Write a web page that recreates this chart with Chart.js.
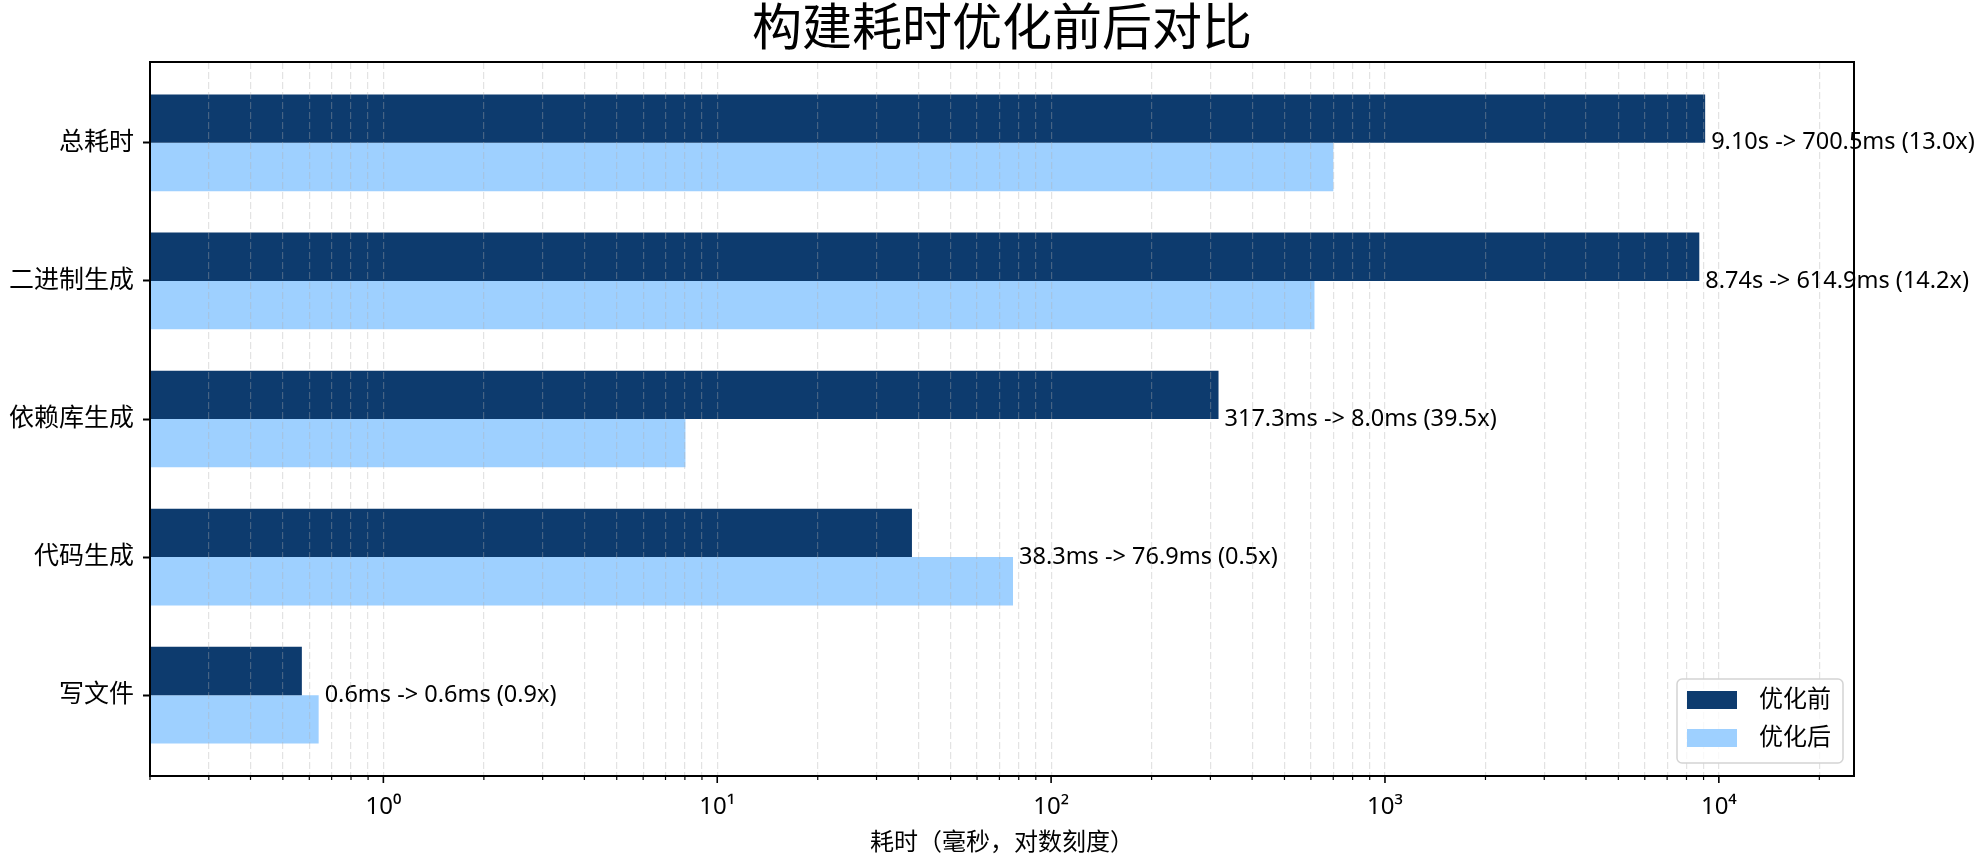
<!DOCTYPE html>
<html>
<head>
<meta charset="utf-8">
<title>构建耗时优化前后对比</title>
<script src="https://cdn.jsdelivr.net/npm/chart.js@4.4.1/dist/chart.umd.min.js"></script>
<style>
  html, body { margin: 0; padding: 0; background: #fff; }
  canvas { display: block; }
</style>
</head>
<body>
<canvas id="myChart" width="1980" height="864"></canvas>
<script>
// 分类和耗时（毫秒）
var categories = ['总耗时', '二进制生成', '依赖库生成', '代码生成', '写文件'];
var beforeMs = [9100, 8740, 317.3, 38.3, 0.57];
var afterMs = [700.5, 614.9, 8.03, 76.9, 0.64];
var seriesNames = ['优化前', '优化后'];
var seriesColors = ['#0d3b6e', '#9ed0ff'];

// x 轴刻度（对数）
var xTicks = [0.2, 0.3, 0.4, 0.5, 0.6, 0.7, 0.8, 0.9,
  1, 2, 3, 4, 5, 6, 7, 8, 9,
  10, 20, 30, 40, 50, 60, 70, 80, 90,
  100, 200, 300, 400, 500, 600, 700, 800, 900,
  1000, 2000, 3000, 4000, 5000, 6000, 7000, 8000, 9000,
  10000, 20000];
var majorTicks = [1, 10, 100, 1000, 10000];
var majorLabels = ['10⁰', '10¹', '10²', '10³', '10⁴'];

var FONT = "'Noto Sans', 'Noto Sans CJK SC', sans-serif";

function fmtMs(v) {
  return v >= 1000 ? (v / 1000).toFixed(2) + 's' : v.toFixed(1) + 'ms';
}

// 柱子右侧的标注
var barLabels = {
  id: 'barLabels',
  afterDatasetsDraw: function(chart) {
    var ctx = chart.ctx;
    var m0 = chart.getDatasetMeta(0), m1 = chart.getDatasetMeta(1);
    ctx.save();
    ctx.font = '23.5px ' + FONT;
    ctx.fillStyle = '#000';
    ctx.textAlign = 'left';
    ctx.textBaseline = 'middle';
    categories.forEach(function(c, i) {
      var x = Math.max(m0.data[i].x, m1.data[i].x) + 6;
      var y = chart.scales.y.getPixelForValue(i);
      var txt = fmtMs(beforeMs[i]) + ' -> ' + fmtMs(afterMs[i]) +
        ' (' + (beforeMs[i] / afterMs[i]).toFixed(1) + 'x)';
      ctx.fillText(txt, x, y);
    });
    ctx.restore();
  }
};

// 边框、x 轴刻度线、图例
var frame = {
  id: 'frame',
  afterDraw: function(chart) {
    var ctx = chart.ctx, a = chart.chartArea, xs = chart.scales.x;
    ctx.save();
    ctx.strokeStyle = '#000';
    xTicks.forEach(function(v) {
      var px = xs.getPixelForValue(v);
      var major = majorTicks.indexOf(v) >= 0;
      ctx.lineWidth = major ? 1.6 : 1.2;
      ctx.beginPath();
      ctx.moveTo(px, a.bottom);
      ctx.lineTo(px, a.bottom + (major ? 7 : 4));
      ctx.stroke();
    });
    ctx.lineWidth = 2;
    ctx.strokeRect(a.left, a.top, a.right - a.left, a.bottom - a.top);

    // legend
    var bw = 166, bh = 84;
    var bx = a.right - 11 - bw, by = a.bottom - 13 - bh;
    ctx.beginPath();
    ctx.roundRect(bx, by, bw, bh, 5);
    ctx.fillStyle = 'rgba(255,255,255,0.8)';
    ctx.fill();
    ctx.lineWidth = 1.5;
    ctx.strokeStyle = '#d4d4d4';
    ctx.stroke();
    ctx.font = '24px ' + FONT;
    ctx.textAlign = 'left';
    ctx.textBaseline = 'middle';
    chart.data.datasets.forEach(function(ds, k) {
      var cy = by + 21 + k * 38;
      ctx.fillStyle = ds.backgroundColor;
      ctx.fillRect(bx + 10, cy - 9, 50, 18);
      ctx.fillStyle = '#000';
      ctx.fillText(ds.label, bx + 82, cy);
    });
    ctx.restore();
  }
};

function displayChart() {
  var ctx = document.getElementById('myChart').getContext('2d');
  Chart.defaults.color = '#000';
  Chart.defaults.font.family = FONT;

  var myChart = new Chart(ctx, {
    type: 'bar',
    data: {
      datasets: [{
        label: seriesNames[0],
        data: beforeMs.map(function(v, i) { return { x: v, y: i }; }),
        backgroundColor: seriesColors[0],
        borderWidth: 0
      }, {
        label: seriesNames[1],
        data: afterMs.map(function(v, i) { return { x: v, y: i }; }),
        backgroundColor: seriesColors[1],
        borderWidth: 0
      }]
    },
    options: {
      indexAxis: 'y',
      responsive: false,
      animation: false,
      categoryPercentage: 0.7,
      barPercentage: 1.0,
      layout: { padding: { left: 0, right: 126, top: 0, bottom: 0 } },
      plugins: {
        legend: { display: false },
        tooltip: { enabled: false },
        title: {
          display: true,
          fullSize: false,
          text: '构建耗时优化前后对比',
          color: '#000',
          font: { size: 50, weight: 'normal', family: FONT },
          padding: { top: 1, bottom: 1 }
        }
      },
      scales: {
        x: {
          type: 'logarithmic',
          min: 0.2,
          max: 25400,
          afterBuildTicks: function(scale) {
            scale.ticks = xTicks.map(function(v) { return { value: v, major: majorTicks.indexOf(v) >= 0 }; });
          },
          afterFit: function(scale) { scale.height = 88; },
          grid: {
            color: 'rgba(176,176,176,0.35)',
            lineWidth: 1.2,
            drawTicks: false,
            z: 1
          },
          border: { display: false, dash: [7, 3] },
          ticks: {
            autoSkip: false,
            maxRotation: 0,
            padding: 17,
            font: { size: 24 },
            callback: function(value) {
              var k = majorTicks.indexOf(value);
              return k >= 0 ? majorLabels[k] : '';
            }
          },
          title: {
            display: true,
            text: '耗时（毫秒，对数刻度）',
            font: { size: 24 },
            padding: { top: 0, bottom: 6 }
          }
        },
        y: {
          type: 'linear',
          reverse: true,
          offset: false,
          min: -0.585,
          max: 4.585,
          afterBuildTicks: function(scale) {
            scale.ticks = categories.map(function(c, i) { return { value: i }; });
          },
          afterFit: function(scale) { scale.width = 150; },
          grid: {
            offset: false,
            drawOnChartArea: false,
            drawTicks: true,
            tickLength: 7,
            tickColor: '#000',
            tickWidth: 2
          },
          border: { display: false },
          ticks: {
            padding: 9,
            font: { size: 25 },
            callback: function(value) { return categories[value]; }
          }
        }
      }
    },
    plugins: [barLabels, frame]
  });
}

displayChart();
</script>
</body>
</html>
